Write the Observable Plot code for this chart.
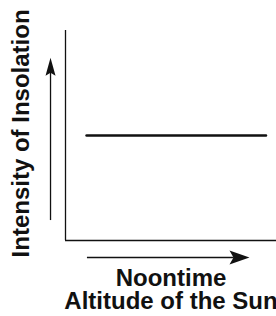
<!DOCTYPE html>
<html>
<head>
<meta charset="utf-8">
<script src="https://cdn.jsdelivr.net/npm/d3@7"></script>
<script src="https://cdn.jsdelivr.net/npm/@observablehq/plot@0.6"></script>
<style>
  html, body { margin: 0; padding: 0; background: #fff; }
  #chart { width: 276px; height: 316px; overflow: hidden; }
</style>
</head>
<body>
<div id="chart"></div>
<script>
// Data: the constant-intensity relationship (arbitrary units 0-100)
const altitude = [10, 95];
const intensity = [50, 50];

// Axis titles
const yLabel = ["Intensity of Insolation"];
const xLabelLines = ["Noontime", "Altitude of the Sun"];
const xLabelY = [-21.9, -32.4];

// Annotation arrows (in data units)
const upArrowX = [-7.1];
const upArrowY = [9.5, 81, 87];      // shaft start, shaft end, tip
const rightArrowY = [-8.1];
const rightArrowX = [10.4, 80, 87.2]; // shaft start, shaft end, tip

const ink = "#111";
const font = "'Liberation Sans', Arial, Helvetica, sans-serif";

const headUp = {draw(ctx) { ctx.moveTo(0, 0); ctx.lineTo(5, 18); ctx.lineTo(0, 15); ctx.lineTo(-5, 18); ctx.closePath(); }};
const headRight = {draw(ctx) { ctx.moveTo(0, 0); ctx.lineTo(-20, -7); ctx.lineTo(-16, 0); ctx.lineTo(-20, 7); ctx.closePath(); }};

const lineData = altitude.map((a, i) => ({altitude: a, intensity: intensity[i]}));
const xLabelData = xLabelLines.map((t, i) => ({text: t, y: xLabelY[i]}));

const chart = Plot.plot({
  width: 276,
  height: 316,
  marginLeft: 65,
  marginRight: 0,
  marginTop: 30,
  marginBottom: 76,
  x: {domain: [0, 100], axis: null},
  y: {domain: [0, 100], axis: null},
  style: {fontFamily: font, background: "#fff"},
  marks: [
    Plot.ruleX([0], {stroke: ink, strokeWidth: 1.3}),
    Plot.ruleY([0], {stroke: ink, strokeWidth: 1.3}),
    Plot.line(lineData, {x: "altitude", y: "intensity", stroke: ink, strokeWidth: 2.6}),
    Plot.ruleX(upArrowX, {x: d => d, y1: upArrowY[0], y2: upArrowY[1], stroke: ink, strokeWidth: 1.3}),
    Plot.dot(upArrowX, {x: d => d, y: upArrowY[2], symbol: headUp, fill: ink, stroke: "none"}),
    Plot.ruleY(rightArrowY, {y: d => d, x1: rightArrowX[0], x2: rightArrowX[1], stroke: ink, strokeWidth: 1.3}),
    Plot.dot(rightArrowY, {y: d => d, x: rightArrowX[2], symbol: headRight, fill: ink, stroke: "none"}),
    Plot.text(yLabel, {x: -17.1, y: 51, text: d => d, rotate: -90, lineAnchor: "bottom", textAnchor: "middle",
      fontSize: 24, fontWeight: "bold", fill: ink}),
    Plot.text(xLabelData, {x: 50, y: "y", text: "text", lineAnchor: "bottom", textAnchor: "middle",
      fontSize: 24, fontWeight: "bold", fill: ink})
  ]
});
document.getElementById("chart").appendChild(chart);
</script>
</body>
</html>
